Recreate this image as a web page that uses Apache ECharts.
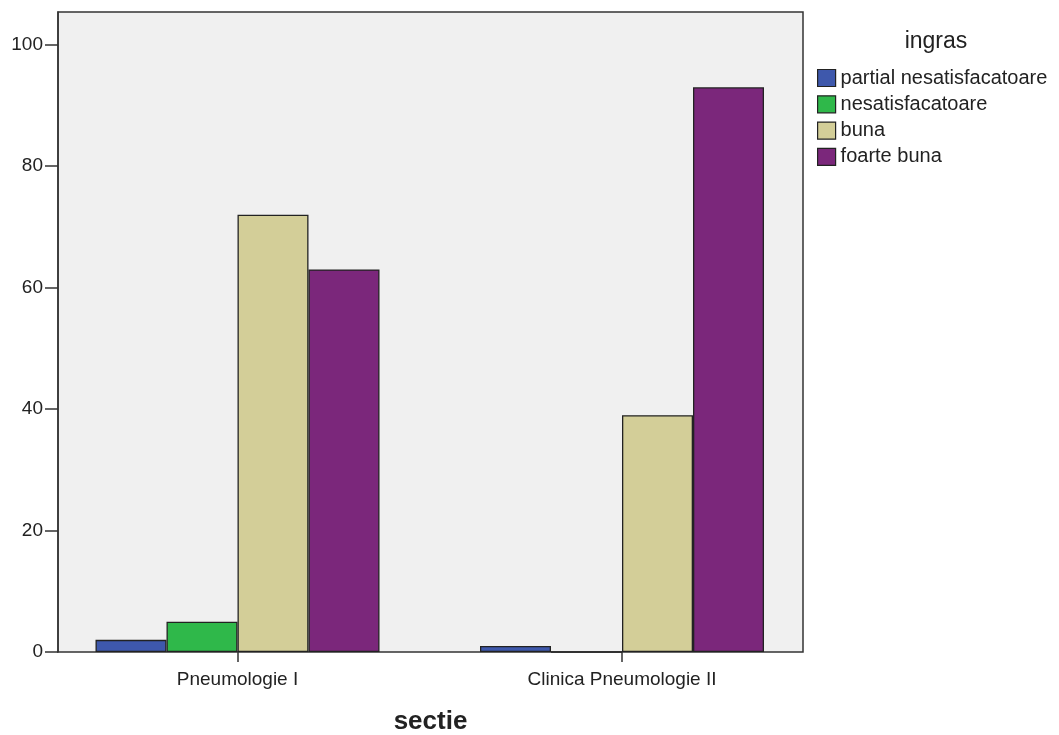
<!DOCTYPE html>
<html><head><meta charset="utf-8">
<script src="https://cdn.jsdelivr.net/npm/echarts@6/dist/echarts.min.js"></script>
<style>html,body{margin:0;padding:0;background:#fff}#c{width:1059px;height:735px}</style>
</head><body><div id="c"></div>
<script>
const categories = ['Pneumologie I', 'Clinica Pneumologie II'];
const seriesNames = ['partial nesatisfacatoare', 'nesatisfacatoare', 'buna', 'foarte buna'];
const partialNesatisfacatoare = [2, 1];
const nesatisfacatoare = [5, 0];
const buna = [72, 39];
const foarteBuna = [63, 93];
const yTicks = [0, 20, 40, 60, 80, 100];
const colors = ['#3e58ac', '#2fb84a', '#d3ce98', '#7b277b'];
const values = [partialNesatisfacatoare, nesatisfacatoare, buna, foarteBuna];

const yMax = 105.4;
const chart = echarts.init(document.getElementById('c'), null, {renderer: 'canvas'});
const font = 'Liberation Sans, Arial, sans-serif';
chart.setOption({
  animation: false,
  backgroundColor: '#ffffff',
  legend: {
    orient: 'vertical', left: 817, top: 68, padding: 0, itemWidth: 18, itemHeight: 17, itemGap: 6.3,
    icon: 'rect',
    data: seriesNames,
    textStyle: {fontFamily: font, fontSize: 20, lineHeight: 17, color: '#222', padding: [0, 0, 0, 0]},
    itemStyle: {borderColor: '#222', borderWidth: 1.2}
  },
  title: [{
    text: 'ingras', left: 931, top: 25, textAlign: 'center',
    textStyle: {fontFamily: font, fontSize: 23, fontWeight: 'normal', color: '#222'}
  }, {
    text: 'sectie', left: 425.5, top: 704, textAlign: 'center',
    textStyle: {fontFamily: font, fontSize: 26, fontWeight: 'bold', color: '#222'}
  }],
  grid: [
    {left: 58, top: 12, width: 745, height: 640, show: true, backgroundColor: '#f0f0f0', borderColor: '#333', borderWidth: 1.5, z: 0},
    {left: 45.25, top: 12, width: 769, height: 640, show: false}
  ],
  xAxis: [
    {gridIndex: 0, type: 'value', show: false, min: 0, max: 1},
    {gridIndex: 1, type: 'category', data: categories,
     axisLine: {show: false},
     axisTick: {show: true, alignWithLabel: true, length: 10, lineStyle: {color: '#333', width: 1.5}},
     axisLabel: {fontFamily: font, fontSize: 19, color: '#222', margin: 18}}
  ],
  yAxis: [
    {gridIndex: 0, type: 'value', min: 0, max: yMax, interval: 20,
     splitLine: {show: false},
     axisLine: {show: true, lineStyle: {color: '#333', width: 1.5}},
     axisTick: {show: true, length: 13, lineStyle: {color: '#333', width: 1.5}},
     axisLabel: {fontFamily: font, fontSize: 19, color: '#222', margin: 15, showMaxLabel: false,
       formatter: v => yTicks.includes(v) ? String(v) : ''}},
    {gridIndex: 1, type: 'value', min: 0, max: yMax, show: false, splitLine: {show: false}}
  ],
  series: seriesNames.map((name, i) => ({
    name, type: 'bar', xAxisIndex: 1, yAxisIndex: 1,
    data: values[i], barWidth: 71, barGap: '0%',
    itemStyle: {color: colors[i], borderColor: '#222', borderWidth: 1.3}
  }))
});
</script>
</body></html>
